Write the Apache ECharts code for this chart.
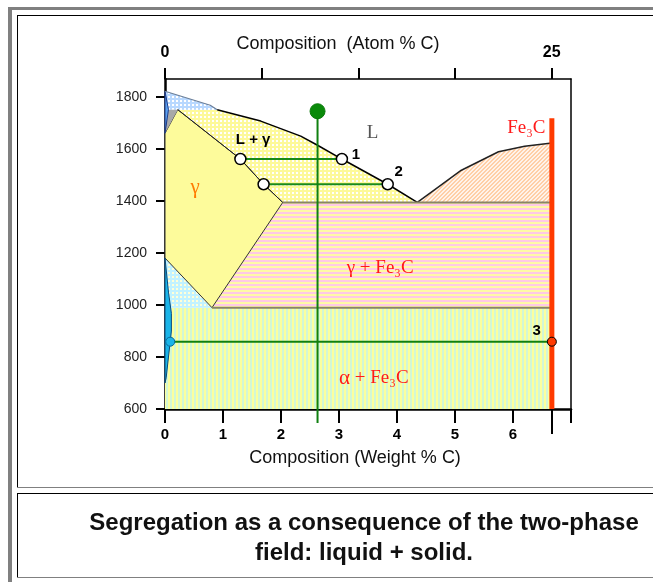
<!DOCTYPE html>
<html><head><meta charset="utf-8">
<script src="https://cdn.jsdelivr.net/npm/echarts@6/dist/echarts.min.js"></script>
<style>html,body{margin:0;padding:0;background:#fff;}#c{width:653px;height:582px;}</style>
</head><body><div id="c"></div>
<script>
// ---------- data (wt% C, temperature °C) ----------
const tempTicks = [600, 800, 1000, 1200, 1400, 1600, 1800];
const wtTicks = [0, 1, 2, 3, 4, 5, 6];
const wtTickMarks = [0, 1, 2, 3, 4, 5, 6, 7];
const atomTickPos = [0, 1.667, 3.333, 5.0, 6.667];   // positions (wt%) of atom% ticks 0..25
const atomLabelPos = [0, 6.667];
const atomLabelText = ['0', '25'];
const fe3cTick = [6.67];

const liquidusLeft = [[0,1823],[0.78,1769],[0.90,1752],[1.65,1708],[2.34,1650],[2.63,1615],[3.05,1562],[3.84,1465],[4.35,1395]];
const liquidusRight = [[4.35,1395],[4.64,1442],[5.11,1519],[5.75,1590],[6.2,1611],[6.67,1624]];
const solidus = [[0.22,1752],[1.30,1562],[1.70,1465],[2.03,1395]];
const acmLine = [[2.03,1395],[0.81,990]];
const a3Line = [[0,1181],[0.81,990]];
const eutecticLine = [[2.03,1395],[6.67,1395]];
const eutectoidLine = [[0.81,990],[6.67,990]];
const peritecticLine = [[0.06,1752],[0.90,1752]];
const deltaRegion = [[0,1823],[0.06,1752],[0,1661]];
const deltaGammaRegion = [[0.06,1752],[0.22,1752],[0,1661]];
const alphaBlade = [[0,1181],[0.06,1050],[0.11,968],[0.11,900],[0.06,800],[0.02,720],[0,700]];
const fe3cLine = [[6.67,1719],[6.67,600]];
const alloyLine = [[2.63,1746],[2.63,546]];
const tie1 = [[1.30,1562],[3.05,1562]];
const tie2 = [[1.70,1465],[3.84,1465]];
const tie3 = [[0.09,859],[6.67,859]];
const tiePoints = [[1.30,1562],[3.05,1562],[1.70,1465],[3.84,1465]];
const alloyStart = [[2.63,1746]];
const alphaPoint = [[0.09,859]];
const fe3cPoint = [[6.67,859]];

const annoText = ['1','2','3','L','Fe₃C','L + γ','γ','γ + Fe₃C','α + Fe₃C'];
const annoPos = [[3.29,1577],[4.03,1511],[6.41,900],[3.58,1661],[6.23,1681],[1.52,1635],[0.52,1454],[3.71,1142],[3.60,719]];

// ---------- region polygons built from the arrays ----------
const regLdelta = [liquidusLeft[0], liquidusLeft[1], liquidusLeft[2], peritecticLine[0]];
const regGamma = [solidus[0], ...solidus.slice(1), acmLine[1], a3Line[0], deltaGammaRegion[2]];
const regLgamma = [solidus[0], peritecticLine[1], ...liquidusLeft.slice(3), ...solidus.slice().reverse().slice(0, -1)];
const regLfe3c = [...liquidusRight, eutecticLine[1]];
const regGfe3c = [eutecticLine[0], eutecticLine[1], eutectoidLine[1], eutectoidLine[0]];
const regAgamma = [a3Line[0], a3Line[1], [0, eutectoidLine[0][1]]];
const regAfe3c = [[0, eutectoidLine[0][1]], eutectoidLine[1], fe3cLine[1], [0, fe3cLine[1][1]]];

// ---------- patterns ----------
function pat(w, h, draw) {
  const c = document.createElement('canvas'); c.width = w; c.height = h;
  const g = c.getContext('2d'); draw(g, w, h); return { image: c, repeat: 'repeat' };
}
const pChecker = (bg) => pat(4, 4, (g) => { g.fillStyle = bg; g.fillRect(0,0,4,4); g.fillStyle = '#ffffff'; g.fillRect(0,0,2,2); });
const pYellowCheck = pChecker('#fdf99a');
const pBlueCheck = pChecker('#b8d8ff');
const pCyanCheck = pat(4, 4, (g) => { g.fillStyle = '#c2f2ff'; g.fillRect(0,0,4,4); g.fillStyle = '#ffffd8'; g.fillRect(0,0,2,2); });
const pHStripes = pat(4, 4, (g) => { g.fillStyle = '#ffc9e6'; g.fillRect(0,0,4,2); g.fillStyle = '#fffaa6'; g.fillRect(0,2,4,2); });
const pVStripes = pat(4, 4, (g) => { g.fillStyle = '#fbff9e'; g.fillRect(0,0,2,4); g.fillStyle = '#d2f7d6'; g.fillRect(2,0,2,4); });
const pDiag = pat(4, 4, (g) => { g.fillStyle = '#fff3ea'; g.fillRect(0,0,4,4); g.fillStyle = '#ffcfa6';
  for (let i = 0; i < 4; i++) { g.fillRect(i, 3 - i, 1, 1); g.fillRect((i + 1) % 4, 3 - i, 1, 1); } });

function regionSeries(points, fill, stroke, z) {
  return { type: 'custom', coordinateSystem: 'cartesian2d', data: points, silent: true, z: z, clip: false,
    renderItem: (params, api) => {
      if (params.dataIndex !== 0) return null;
      return { type: 'polygon', shape: { points: points.map(p => api.coord(p)) },
        style: { fill: fill, stroke: stroke || null, lineWidth: 1 } };
    } };
}
function lineSeries(data, color, width, z) {
  return { type: 'line', data: data, symbol: 'none', silent: true, clip: false, z: z,
    lineStyle: { color: color, width: width }, emphasis: { disabled: true } };
}
function dotSeries(data, size, fill, border, bw, z) {
  return { type: 'scatter', data: data, symbolSize: size, silent: true, z: z, clip: false,
    itemStyle: { color: fill, borderColor: border, borderWidth: bw, opacity: 1 } };
}

const annoStyle = [
  { fontSize: 15, fontWeight: 'bold', fontFamily: 'Liberation Sans', fill: '#000' },
  { fontSize: 15, fontWeight: 'bold', fontFamily: 'Liberation Sans', fill: '#000' },
  { fontSize: 15, fontWeight: 'bold', fontFamily: 'Liberation Sans', fill: '#000' },
  { fontSize: 19, fontFamily: 'Liberation Serif', fill: '#555' },
  { fontSize: 19, fontFamily: 'Liberation Serif', fill: '#ff1a1a' },
  { fontSize: 15, fontWeight: 'bold', fontFamily: 'Liberation Sans', fill: '#000' },
  { fontSize: 21, fontFamily: 'Liberation Serif', fill: '#ff7a00' },
  { fontSize: 19, fontFamily: 'Liberation Serif', fill: '#ff1a1a' },
  { fontSize: 19, fontFamily: 'Liberation Serif', fill: '#ff1a1a' }
];
const richParts = {
  g: { fontSize: 19, fontFamily: 'Liberation Serif', color: '#ff7a00' },
  a: { fontSize: 21, fontFamily: 'Liberation Serif', color: '#1a97a8' },
  r: { fontSize: 19, fontFamily: 'Liberation Serif', color: '#ff1a1a' }
};
function annoRich(t) {
  if (t.startsWith('γ +')) return '{g|γ}{r|' + t.slice(1) + '}';
  if (t.startsWith('α +')) return '{a|α}{r|' + t.slice(1) + '}';
  return null;
}

const chart = echarts.init(document.getElementById('c'), null, { renderer: 'canvas' });
const font = 'Liberation Sans';
chart.setOption({
  animation: false,
  backgroundColor: '#fff',
  grid: { left: 165, top: 79, width: 406, height: 330, containLabel: false },
  xAxis: [
    { type: 'value', position: 'bottom', min: 0, max: 7,
      axisLine: { show: true, onZero: false, lineStyle: { color: '#000', width: 2.5 } },
      axisTick: { show: true, length: 14, customValues: wtTickMarks, lineStyle: { color: '#000', width: 2 } },
      axisLabel: { customValues: wtTicks, margin: 18, fontWeight: 'bold', fontSize: 15, color: '#000', fontFamily: font,
        formatter: (v) => String(v) },
      splitLine: { show: false } },
    { type: 'value', position: 'top', min: 0, max: 7,
      axisLine: { show: true, onZero: false, lineStyle: { color: '#000', width: 1.5 } },
      axisTick: { show: true, length: 11, customValues: atomTickPos, lineStyle: { color: '#000', width: 2 } },
      axisLabel: { customValues: atomLabelPos, margin: 18, fontWeight: 'bold', fontSize: 16, color: '#000', fontFamily: font,
        formatter: (v) => atomLabelText[atomLabelPos.findIndex(p => Math.abs(p - v) < 0.01)] },
      splitLine: { show: false } },
    { type: 'value', position: 'bottom', min: 0, max: 7,
      axisLine: { show: false }, axisLabel: { show: false }, splitLine: { show: false },
      axisTick: { show: true, length: 25, customValues: fe3cTick, lineStyle: { color: '#000', width: 2 } } }
  ],
  yAxis: [
    { type: 'value', position: 'left', min: 600, max: 1870,
      axisLine: { show: true, onZero: false, lineStyle: { color: '#000', width: 2.5 } },
      axisTick: { show: true, length: 9, customValues: tempTicks, lineStyle: { color: '#000', width: 2 } },
      axisLabel: { customValues: tempTicks, margin: 18, fontSize: 14, color: '#222', fontFamily: font,
        formatter: (v) => String(v) },
      splitLine: { show: false } },
    { type: 'value', position: 'right', min: 600, max: 1870,
      axisLine: { show: true, onZero: false, lineStyle: { color: '#000', width: 1.5 } },
      axisTick: { show: false }, axisLabel: { show: false }, splitLine: { show: false } }
  ],
  graphic: [
    { type: 'rect', shape: { x: 8, y: 7, width: 645, height: 3 }, style: { fill: '#808080' }, silent: true },
    { type: 'rect', shape: { x: 8, y: 7, width: 4, height: 575 }, style: { fill: '#808080' }, silent: true },
    { type: 'line', shape: { x1: 17, y1: 15.5, x2: 653, y2: 15.5 }, style: { stroke: '#000', lineWidth: 1 }, silent: true },
    { type: 'line', shape: { x1: 17.5, y1: 15, x2: 17.5, y2: 488 }, style: { stroke: '#000', lineWidth: 1 }, silent: true },
    { type: 'line', shape: { x1: 17, y1: 487.5, x2: 653, y2: 487.5 }, style: { stroke: '#808080', lineWidth: 1 }, silent: true },
    { type: 'line', shape: { x1: 17, y1: 493.5, x2: 653, y2: 493.5 }, style: { stroke: '#000', lineWidth: 1 }, silent: true },
    { type: 'line', shape: { x1: 17.5, y1: 493, x2: 17.5, y2: 578 }, style: { stroke: '#000', lineWidth: 1 }, silent: true },
    { type: 'line', shape: { x1: 17, y1: 577.5, x2: 653, y2: 577.5 }, style: { stroke: '#808080', lineWidth: 1 }, silent: true },
    { type: 'text', x: 338, y: 44, silent: true,
      style: { text: 'Composition  (Atom % C)', fontSize: 18, fontFamily: font, fill: '#111', align: 'center', verticalAlign: 'middle' } },
    { type: 'text', x: 355, y: 458, silent: true,
      style: { text: 'Composition (Weight % C)', fontSize: 18, fontFamily: font, fill: '#111', align: 'center', verticalAlign: 'middle' } },
    { type: 'text', x: 364, y: 523, silent: true,
      style: { text: 'Segregation as a consequence of the two-phase', fontSize: 24, fontWeight: 'bold', fontFamily: font, fill: '#111', align: 'center', verticalAlign: 'middle' } },
    { type: 'text', x: 364, y: 553, silent: true,
      style: { text: 'field: liquid + solid.', fontSize: 24, fontWeight: 'bold', fontFamily: font, fill: '#111', align: 'center', verticalAlign: 'middle' } }
  ],
  series: [
    regionSeries(regAfe3c, pVStripes, null, 1),
    regionSeries(regGfe3c, pHStripes, null, 1),
    regionSeries(regAgamma, pCyanCheck, null, 1),
    regionSeries(regLfe3c, pDiag, null, 1),
    regionSeries(regLgamma, pYellowCheck, null, 1),
    regionSeries(regLdelta, pBlueCheck, null, 1),
    regionSeries(regGamma, '#fdfb9b', '#333', 2),
    regionSeries(deltaGammaRegion, '#a8a8a8', null, 2),
    regionSeries(deltaRegion, '#5aa0ee', '#1e3c8c', 3),
    regionSeries(alphaBlade, '#1ab4e8', '#0b4a7a', 3),
    lineSeries(liquidusLeft.slice(0, 3), '#6b7f99', 1.2, 4),
    lineSeries(liquidusLeft.slice(2), '#000', 1.5, 4),
    lineSeries(liquidusRight, '#222', 1.5, 4),
    lineSeries(solidus, '#222', 1, 4),
    lineSeries(eutecticLine, '#8a8468', 2, 4),
    lineSeries(eutectoidLine, '#8a8468', 2, 4),
    lineSeries(fe3cLine, '#ff3a00', 5, 5),
    lineSeries(tie1, '#1a8a1a', 2, 6),
    lineSeries(tie2, '#1a8a1a', 2, 6),
    lineSeries(tie3, '#108010', 2, 6),
    lineSeries(alloyLine, '#108010', 2, 6),
    dotSeries(alloyStart, 15, '#0a8a0a', '#0a7a0a', 1, 8),
    dotSeries(tiePoints, 11, '#fff', '#000', 1.5, 8),
    dotSeries(alphaPoint, 9, '#1ab4e8', '#0b6a9a', 1, 8),
    dotSeries(fe3cPoint, 9, '#ff3a00', '#000', 1, 8),
    { type: 'custom', coordinateSystem: 'cartesian2d', data: annoPos, silent: true, z: 9, clip: false,
      renderItem: (params, api) => {
        const i = params.dataIndex;
        const p = api.coord([api.value(0), api.value(1)]);
        const t = annoText[i];
        const rich = annoRich(t);
        const st = Object.assign({}, annoStyle[i], { text: rich || t, align: 'center', verticalAlign: 'middle' });
        if (rich) st.rich = richParts;
        return { type: 'text', x: p[0], y: p[1], style: st };
      } }
  ]
});
</script></body></html>
